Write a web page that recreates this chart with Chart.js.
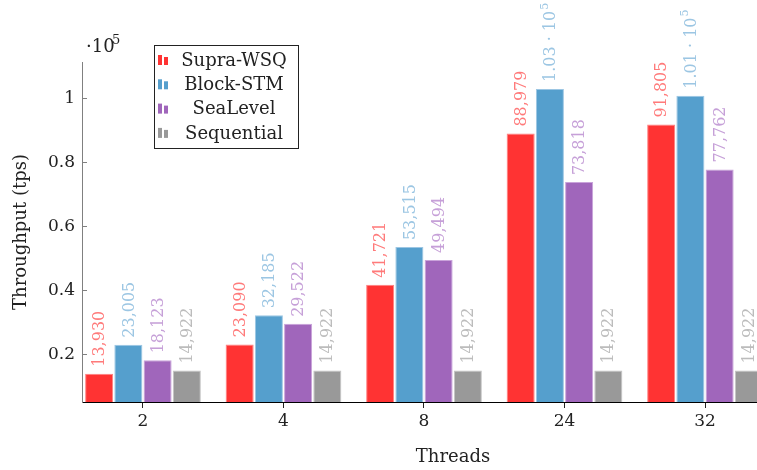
<!DOCTYPE html>
<html>
<head>
<meta charset="utf-8">
<script src="https://cdn.jsdelivr.net/npm/chart.js@4.4.1/dist/chart.umd.min.js"></script>
<style>
  html, body { margin: 0; padding: 0; background: #fff; overflow: hidden; }
  #wrap { position: relative; width: 757px; height: 470px; }
</style>
</head>
<body>
<div id="wrap"><canvas id="chart"></canvas></div>
<script>
// ---- data ----
var categories = ['2', '4', '8', '24', '32'];
var supraWsq   = [13930, 23090, 41721, 88979, 91805];
var blockStm   = [23005, 32185, 53515, 102900, 100800];
var seaLevel   = [18123, 29522, 49494, 73818, 77762];
var sequential = [14922, 14922, 14922, 14922, 14922];
var yTicks     = [20000, 40000, 60000, 80000, 100000];

var FONT = '"DejaVu Serif", serif';

function series(label, values, fill, edge, text) {
  return {
    label: label,
    data: values.map(function (v, i) { return { x: i, y: v }; }),
    backgroundColor: fill,
    borderColor: edge,
    borderWidth: 1,
    labelColor: text
  };
}

function fmt(v) {
  if (v >= 100000) return { main: (v / 100000).toFixed(2) + ' \u00b7 10', sup: '5' };
  return { main: v.toLocaleString('en-US'), sup: '' };
}

/* rotated value labels above each bar */
var valueLabels = {
  id: 'valueLabels',
  afterDatasetsDraw: function (chart) {
    var ctx = chart.ctx;
    ctx.save();
    chart.data.datasets.forEach(function (ds, di) {
      var meta = chart.getDatasetMeta(di);
      meta.data.forEach(function (bar, i) {
        var t = fmt(ds.data[i].y);
        ctx.save();
        ctx.translate(bar.x + 1, bar.y - 7);
        ctx.rotate(-Math.PI / 2);
        ctx.fillStyle = ds.labelColor;
        ctx.textAlign = 'left';
        ctx.textBaseline = 'middle';
        ctx.font = '16px ' + FONT;
        ctx.fillText(t.main, 0, 0);
        if (t.sup) {
          var w = ctx.measureText(t.main).width;
          ctx.font = '11px ' + FONT;
          ctx.fillText(t.sup, w + 1, -6);
        }
        ctx.restore();
      });
    });
    ctx.restore();
  }
};

/* pgfplots-like decorations: inward y ticks, exponent, axis titles, legend */
var decor = {
  id: 'decor',
  afterDraw: function (chart) {
    var ctx = chart.ctx, a = chart.chartArea, y = chart.scales.y;
    ctx.save();
    ctx.strokeStyle = '#808080';
    ctx.lineWidth = 1;
    yTicks.forEach(function (v) {
      var py = Math.round(y.getPixelForValue(v)) + 0.5;
      ctx.beginPath(); ctx.moveTo(a.left, py); ctx.lineTo(a.left + 5, py); ctx.stroke();
    });
    ctx.fillStyle = '#222';
    ctx.textBaseline = 'alphabetic';
    ctx.textAlign = 'left';
    ctx.font = '18px ' + FONT;
    ctx.fillText('\u00b710', 86, 52);
    ctx.font = '13px ' + FONT;
    ctx.fillText('5', 112, 44);
    ctx.font = '18px ' + FONT;
    ctx.textAlign = 'center';
    ctx.textBaseline = 'middle';
    ctx.fillText('Threads', a.left + 371, 457);
    ctx.save();
    ctx.translate(21, (a.top + a.bottom) / 2);
    ctx.rotate(-Math.PI / 2);
    ctx.fillText('Throughput (tps)', 0, 0);
    ctx.restore();
    // legend
    var bx = 154.5, by = 45.5, bw = 144, bh = 103;
    ctx.fillStyle = '#fff';
    ctx.fillRect(bx, by, bw, bh);
    ctx.strokeStyle = '#222';
    ctx.strokeRect(bx, by, bw, bh);
    chart.data.datasets.forEach(function (ds, i) {
      var cy = 60 + i * 24.3;
      ctx.fillStyle = ds.backgroundColor;
      ctx.fillRect(158, cy - 5, 4, 10);
      ctx.fillRect(164, cy - 3, 4, 8);
      ctx.fillStyle = '#222';
      ctx.font = '18px ' + FONT;
      ctx.textAlign = 'center';
      ctx.fillText(ds.label, 234, cy + 1);
    });
    ctx.restore();
  }
};

new Chart(document.getElementById('chart'), {
  type: 'bar',
  data: {
    datasets: [
      series('Supra-WSQ',  supraWsq,   '#ff3333', '#ff8080', '#ff7a7a'),
      series('Block-STM',  blockStm,   '#559fcd', '#9cc6e3', '#9cc6e3'),
      series('SeaLevel',   seaLevel,   '#a066bb', '#c9a3da', '#c6a0d8'),
      series('Sequential', sequential, '#999999', '#c4c4c4', '#bcbcbc')
    ]
  },
  options: {
    responsive: true,
    maintainAspectRatio: false,
    animation: false,
    categoryPercentage: 0.832,
    barPercentage: 0.96,
    layout: { padding: { top: 62, right: 0, left: 0, bottom: 0 } },
    plugins: { legend: { display: false }, tooltip: { enabled: false } },
    scales: {
      x: {
        type: 'linear',
        offset: false,
        min: -0.434,
        max: 4.37,
        afterBuildTicks: function (s) { s.ticks = categories.map(function (c, i) { return { value: i }; }); },
        afterFit: function (s) { s.height = 68; },
        border: { color: '#000', width: 1 },
        grid: { offset: false, drawOnChartArea: false, tickLength: 6, color: '#222' },
        ticks: {
          color: '#222', padding: 3,
          font: { family: FONT, size: 17 },
          callback: function (v) { return categories[v]; }
        }
      },
      y: {
        min: 5100,
        max: 111340,
        afterBuildTicks: function (s) { s.ticks = yTicks.map(function (v) { return { value: v }; }); },
        afterFit: function (s) { s.width = 82; },
        border: { color: '#808080', width: 1 },
        grid: { drawOnChartArea: false, drawTicks: false },
        ticks: {
          color: '#222', padding: 7,
          font: { family: FONT, size: 17 },
          callback: function (v) { return String(v / 100000); }
        }
      }
    }
  },
  plugins: [valueLabels, decor]
});
</script>
</body>
</html>
